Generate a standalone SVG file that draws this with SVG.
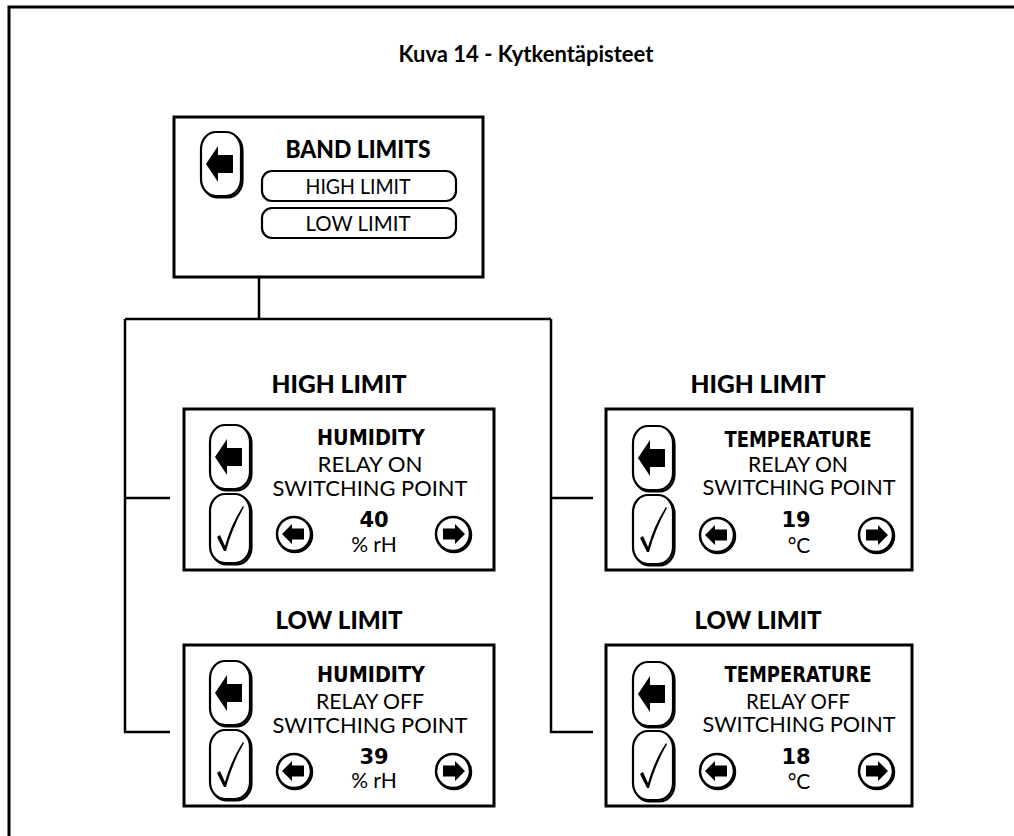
<svg xmlns="http://www.w3.org/2000/svg" xmlns:xlink="http://www.w3.org/1999/xlink" width="1014" height="836" viewBox="0 0 1014 836">
<style>
.box{fill:#fff;stroke:#000;stroke-width:3}
.btn{fill:#fff;stroke:#000;stroke-width:2.2}
.sh{fill:none;stroke:#000;stroke-width:2.2}
.conn{fill:none;stroke:#000;stroke-width:2.5}
.title{font-family:Lato,"Liberation Sans",sans-serif;font-weight:700;font-size:22px;text-anchor:middle}
.lbl{font-family:Lato,"Liberation Sans",sans-serif;font-weight:900;font-size:24px;text-anchor:middle}
.hd{font-family:"DejaVu Sans","Liberation Sans",sans-serif;font-weight:700;font-size:21px;text-anchor:middle}
.tx{font-family:Lato,"Liberation Sans",sans-serif;font-weight:400;font-size:21px;text-anchor:middle}
.num{font-family:"DejaVu Sans","Liberation Sans",sans-serif;font-weight:700;font-size:21px;text-anchor:middle}
</style>
<defs>
<g id="backBtn">
<rect class="sh" x="1.5" y="1.5" width="40" height="64" rx="15" ry="17"/>
<rect class="btn" x="0" y="0" width="40" height="64" rx="15" ry="17"/>
<polygon points="5,32 17,14 17,23 32,23 32,41 17,41 17,50" fill="#000"/>
</g>
<g id="checkBtn">
<rect class="sh" x="1.5" y="1.5" width="40" height="69" rx="15" ry="17"/>
<rect class="btn" x="0" y="0" width="40" height="69" rx="15" ry="17"/>
<path d="M7,43 L10,41 L15,52 C19,38 25,24 33,12 L34,13 C26,27 20,42 16,57 L14,57 Z" fill="#000"/>
</g>
<g id="circL">
<circle cx="1" cy="1" r="17" fill="none" stroke="#000" stroke-width="2.5"/>
<circle cx="0" cy="0" r="17" fill="#fff" stroke="#000" stroke-width="2.5"/>
<polygon points="-12,0 -2,-10 -2,-5.5 10,-5.5 10,5.5 -2,5.5 -2,10" fill="#000"/>
</g>
<g id="circR">
<circle cx="1" cy="1" r="17" fill="none" stroke="#000" stroke-width="2.5"/>
<circle cx="0" cy="0" r="17" fill="#fff" stroke="#000" stroke-width="2.5"/>
<polygon points="12,0 2,-10 2,-5.5 -10,-5.5 -10,5.5 2,5.5 2,10" fill="#000"/>
</g>
</defs>
<rect x="0" y="0" width="1014" height="836" fill="#fff"/>
<path d="M9,836 V7 H1014" fill="none" stroke="#000" stroke-width="3"/>
<text class="title" x="526" y="62">Kuva 14 - Kytkentäpisteet</text>

<g id="connectors">
<path class="conn" d="M259,277 V319"/>
<path class="conn" d="M125,319 H551"/>
<path class="conn" d="M125,319 V732 H170"/>
<path class="conn" d="M125,498 H170"/>
<path class="conn" d="M551,319 V732 H593"/>
<path class="conn" d="M551,498 H593"/>
</g>

<g id="band-limits">
<rect class="box" x="174" y="117" width="309" height="160"/>
<use xlink:href="#backBtn" x="201" y="132"/>
<text class="lbl" x="358" y="158" font-size="21" textLength="145" lengthAdjust="spacingAndGlyphs">BAND LIMITS</text>
<rect class="btn" x="262" y="171" width="194" height="30" rx="10"/>
<text class="tx" x="358" y="194" font-size="20" textLength="105" lengthAdjust="spacingAndGlyphs">HIGH LIMIT</text>
<rect class="btn" x="262" y="208" width="194" height="30" rx="10"/>
<text class="tx" x="358" y="231" font-size="20" textLength="105" lengthAdjust="spacingAndGlyphs">LOW LIMIT</text>
</g>

<g id="hum-high">
<text class="lbl" x="339" y="393" textLength="135" lengthAdjust="spacingAndGlyphs">HIGH LIMIT</text>
<rect class="box" x="184" y="409" width="310" height="161"/>
<use xlink:href="#backBtn" x="210" y="425"/>
<use xlink:href="#checkBtn" x="210" y="494"/>
<text class="hd" x="371" y="445" textLength="108" lengthAdjust="spacingAndGlyphs">HUMIDITY</text>
<text class="tx" x="370" y="472" textLength="105" lengthAdjust="spacingAndGlyphs">RELAY ON</text>
<text class="tx" x="370" y="496" textLength="195" lengthAdjust="spacingAndGlyphs">SWITCHING POINT</text>
<text class="num" x="374" y="527">40</text>
<text class="tx" x="374" y="552">% rH</text>
<use xlink:href="#circL" x="294" y="534"/>
<use xlink:href="#circR" x="453" y="534"/>
</g>

<g id="temp-high">
<text class="lbl" x="758" y="393" textLength="135" lengthAdjust="spacingAndGlyphs">HIGH LIMIT</text>
<rect class="box" x="606" y="409" width="306" height="161"/>
<use xlink:href="#backBtn" x="633" y="426"/>
<use xlink:href="#checkBtn" x="633" y="495"/>
<text class="hd" x="798" y="447" textLength="147" lengthAdjust="spacingAndGlyphs">TEMPERATURE</text>
<text class="tx" x="798" y="472" textLength="100" lengthAdjust="spacingAndGlyphs">RELAY ON</text>
<text class="tx" x="799" y="495" textLength="193" lengthAdjust="spacingAndGlyphs">SWITCHING POINT</text>
<text class="num" x="796" y="527">19</text>
<text class="tx" x="799" y="553">°C</text>
<use xlink:href="#circL" x="717" y="535"/>
<use xlink:href="#circR" x="876" y="535"/>
</g>

<g id="hum-low">
<text class="lbl" x="339" y="629" textLength="127" lengthAdjust="spacingAndGlyphs">LOW LIMIT</text>
<rect class="box" x="184" y="645" width="310" height="161"/>
<use xlink:href="#backBtn" x="210" y="661"/>
<use xlink:href="#checkBtn" x="210" y="730"/>
<text class="hd" x="371" y="682" textLength="108" lengthAdjust="spacingAndGlyphs">HUMIDITY</text>
<text class="tx" x="370" y="709" textLength="108" lengthAdjust="spacingAndGlyphs">RELAY OFF</text>
<text class="tx" x="370" y="733" textLength="195" lengthAdjust="spacingAndGlyphs">SWITCHING POINT</text>
<text class="num" x="374" y="764">39</text>
<text class="tx" x="374" y="788">% rH</text>
<use xlink:href="#circL" x="294" y="771"/>
<use xlink:href="#circR" x="453" y="771"/>
</g>

<g id="temp-low">
<text class="lbl" x="758" y="629" textLength="127" lengthAdjust="spacingAndGlyphs">LOW LIMIT</text>
<rect class="box" x="606" y="645" width="306" height="161"/>
<use xlink:href="#backBtn" x="633" y="662"/>
<use xlink:href="#checkBtn" x="633" y="731"/>
<text class="hd" x="798" y="682" textLength="147" lengthAdjust="spacingAndGlyphs">TEMPERATURE</text>
<text class="tx" x="798" y="709" textLength="104" lengthAdjust="spacingAndGlyphs">RELAY OFF</text>
<text class="tx" x="799" y="732" textLength="193" lengthAdjust="spacingAndGlyphs">SWITCHING POINT</text>
<text class="num" x="796" y="764">18</text>
<text class="tx" x="799" y="789">°C</text>
<use xlink:href="#circL" x="717" y="771"/>
<use xlink:href="#circR" x="876" y="771"/>
</g>
</svg>
